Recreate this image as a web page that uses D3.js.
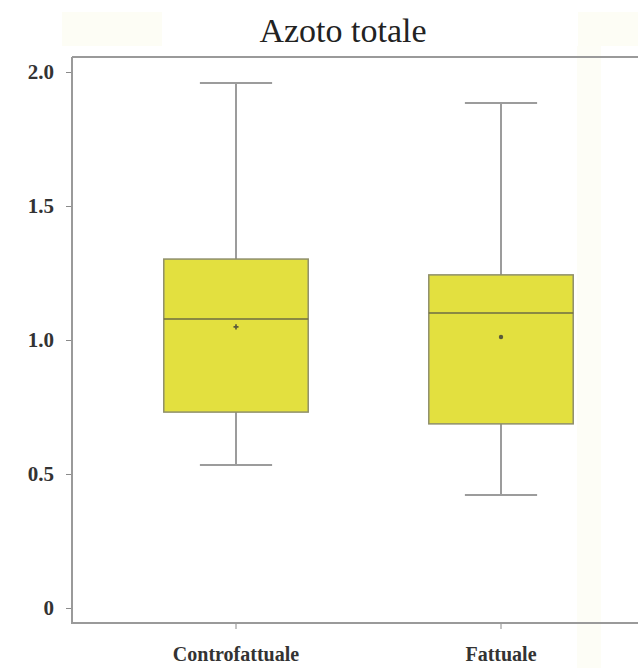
<!DOCTYPE html>
<html>
<head>
<meta charset="utf-8">
<script src="https://cdn.jsdelivr.net/npm/d3@7"></script>
<style>
  html, body { margin: 0; padding: 0; background: #ffffff; }
  svg { display: block; }
</style>
</head>
<body>
<script>
// ---- data ----
const title = "Azoto totale";
const categories = ["Controfattuale", "Fattuale"];
const whiskerLow  = [0.534, 0.422];
const q1          = [0.731, 0.687];
const median      = [1.078, 1.101];
const q3          = [1.302, 1.243];
const whiskerHigh = [1.959, 1.884];
const means       = [1.049, 1.011];
const meanMarker  = ["plus", "dot"];
const yTicks      = [0, 0.5, 1.0, 1.5, 2.0];
const yTickLabels = ["0", "0.5", "1.0", "1.5", "2.0"];

const W = 638, H = 668;
const serif = "Liberation Serif, Times New Roman, serif";
const svg = d3.select("body").append("svg").attr("width", W).attr("height", H);

// faint scan-like background tint patches
const tint = "#fdfdf5";
svg.append("rect").attr("x", 62).attr("y", 12).attr("width", 100).attr("height", 34).attr("fill", tint);
svg.append("rect").attr("x", 578).attr("y", 12).attr("width", 60).attr("height", 34).attr("fill", tint);
svg.append("rect").attr("x", 577).attr("y", 46).attr("width", 24).attr("height", 622).attr("fill", "#fdfdf6");

const plotLeft = 72, plotTop = 57, plotBottom = 623, plotRight = 638;

const y = d3.scaleLinear().domain([-0.0560, 2.056]).range([plotBottom, plotTop]);
const x = d3.scaleBand().domain(categories).range([103.5, 633.5]).padding(0);
const boxW = x.bandwidth() * 0.545;
const capW = boxW * 0.5;

// frame: top line
svg.append("line").attr("x1", plotLeft).attr("x2", plotRight)
  .attr("y1", plotTop).attr("y2", plotTop)
  .attr("stroke", "#9a9a9a").attr("stroke-width", 2);

// y axis
const yAxis = d3.axisLeft(y).tickValues(yTicks)
  .tickFormat((d, i) => yTickLabels[i]).tickSize(6).tickPadding(12);
const gy = svg.append("g").attr("transform", `translate(${plotLeft},0)`).call(yAxis);
gy.select(".domain").remove();
gy.append("line").attr("x1", 0).attr("x2", 0).attr("y1", plotTop).attr("y2", plotBottom)
  .attr("stroke", "#9a9a9a").attr("stroke-width", 2);
gy.selectAll(".tick line").attr("stroke", "#8a8a8a").attr("stroke-width", 1);
gy.selectAll(".tick text")
  .attr("font-family", serif)
  .attr("font-weight", "bold").attr("font-size", 21).attr("fill", "#333");

// x axis
const xAxis = d3.axisBottom(x).tickSize(6).tickPadding(18);
const gx = svg.append("g").attr("transform", `translate(0,${plotBottom})`).call(xAxis);
gx.select(".domain").remove();
gx.append("line").attr("x1", plotLeft - 1).attr("x2", plotRight).attr("y1", 0).attr("y2", 0)
  .attr("stroke", "#9a9a9a").attr("stroke-width", 2);
gx.selectAll(".tick line").attr("stroke", "#8a8a8a").attr("stroke-width", 1);
gx.selectAll(".tick text")
  .attr("font-family", serif)
  .attr("font-weight", "bold").attr("font-size", 20).attr("fill", "#333");

// boxes
const data = categories.map((c, i) => ({
  c, lo: whiskerLow[i], q1: q1[i], med: median[i], q3: q3[i], hi: whiskerHigh[i], mean: means[i], mk: meanMarker[i]
}));
const g = svg.append("g");
data.forEach(d => {
  const cx = x(d.c) + x.bandwidth() / 2;
  const wcol = "#9c9c9c";
  g.append("line").attr("x1", cx).attr("x2", cx).attr("y1", y(d.hi)).attr("y2", y(d.q3))
    .attr("stroke", wcol).attr("stroke-width", 2);
  g.append("line").attr("x1", cx).attr("x2", cx).attr("y1", y(d.q1)).attr("y2", y(d.lo))
    .attr("stroke", wcol).attr("stroke-width", 2);
  g.append("line").attr("x1", cx - capW / 2).attr("x2", cx + capW / 2).attr("y1", y(d.hi)).attr("y2", y(d.hi))
    .attr("stroke", wcol).attr("stroke-width", 2);
  g.append("line").attr("x1", cx - capW / 2).attr("x2", cx + capW / 2).attr("y1", y(d.lo)).attr("y2", y(d.lo))
    .attr("stroke", wcol).attr("stroke-width", 2);
  g.append("rect").attr("x", cx - boxW / 2).attr("y", y(d.q3))
    .attr("width", boxW).attr("height", y(d.q1) - y(d.q3))
    .attr("fill", "#e3e03f").attr("stroke", "#8f8f6a").attr("stroke-width", 1.5);
  g.append("line").attr("x1", cx - boxW / 2).attr("x2", cx + boxW / 2).attr("y1", y(d.med)).attr("y2", y(d.med))
    .attr("stroke", "#6e6c45").attr("stroke-width", 1.5);
  if (d.mk === "plus") {
    g.append("path").attr("d", d3.symbol(d3.symbolCross, 14)())
      .attr("transform", `translate(${cx},${y(d.mean)})`).attr("fill", "#5a5a3a");
  } else {
    g.append("circle").attr("cx", cx).attr("cy", y(d.mean)).attr("r", 2.2).attr("fill", "#5a5a3a");
  }
});

// title
svg.append("text").attr("x", 343).attr("y", 42).attr("text-anchor", "middle")
  .attr("font-family", serif)
  .attr("font-size", 34).attr("fill", "#222").text(title);
</script>
</body>
</html>
